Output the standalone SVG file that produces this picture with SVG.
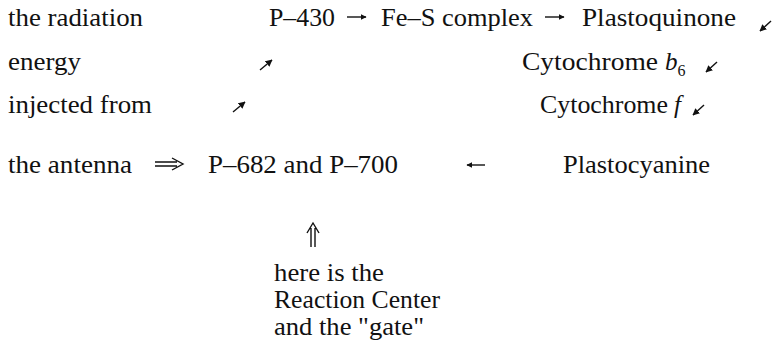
<svg xmlns="http://www.w3.org/2000/svg" width="775" height="352" viewBox="0 0 775 352">
<style>
text{font-family:'Liberation Serif','Times New Roman','DejaVu Serif',serif;font-size:25px;fill:#111}
.c{stroke:#111;stroke-width:1.4;fill:none}
</style>
<defs>
<marker id="ah" viewBox="0 0 10 10" refX="9" refY="5" markerWidth="6" markerHeight="6" markerUnits="userSpaceOnUse" orient="auto"><path d="M0,0L10,5L0,10z" fill="#111"/></marker>
<marker id="ahs" viewBox="0 0 10 10" refX="9" refY="5" markerWidth="7" markerHeight="7" markerUnits="userSpaceOnUse" orient="auto"><path d="M0,0L10,5L0,10z" fill="#111"/></marker>
</defs>
<rect width="775" height="352" fill="#fff"/>
<g id="label-left">
<text x="8" y="26" textLength="135" lengthAdjust="spacingAndGlyphs">the radiation</text>
<text x="8" y="70" textLength="73" lengthAdjust="spacingAndGlyphs">energy</text>
<text x="8" y="113" textLength="144" lengthAdjust="spacingAndGlyphs">injected from</text>
<text x="8" y="173" textLength="124" lengthAdjust="spacingAndGlyphs">the antenna</text>
</g>
<g id="p430"><text x="269" y="26" textLength="66" lengthAdjust="spacingAndGlyphs">P–430</text></g>
<g id="fes"><text x="381" y="26" textLength="152" lengthAdjust="spacingAndGlyphs">Fe–S complex</text></g>
<g id="pq"><text x="582" y="26" textLength="154" lengthAdjust="spacingAndGlyphs">Plastoquinone</text></g>
<g id="cytb6"><text x="522" y="70"><tspan textLength="136" lengthAdjust="spacingAndGlyphs">Cytochrome</tspan><tspan x="665" font-style="italic">b</tspan><tspan font-size="16" dy="6">6</tspan></text></g>
<g id="cytf"><text x="540" y="113"><tspan textLength="128" lengthAdjust="spacingAndGlyphs">Cytochrome</tspan><tspan x="674" font-style="italic">f</tspan></text></g>
<g id="p682"><text x="208" y="173" textLength="190" lengthAdjust="spacingAndGlyphs">P–682 and P–700</text></g>
<g id="pc"><text x="563" y="173" textLength="147" lengthAdjust="spacingAndGlyphs">Plastocyanine</text></g>
<g id="rc">
<text x="274" y="281" textLength="110" lengthAdjust="spacingAndGlyphs">here is the</text>
<text x="274" y="308" textLength="166" lengthAdjust="spacingAndGlyphs">Reaction Center</text>
<text x="274" y="335" textLength="150" lengthAdjust="spacingAndGlyphs">and the "gate"</text>
</g>
<g id="connectors">
<path class="c" d="M347,17H366" marker-end="url(#ah)"/>
<path class="c" d="M545,17H564" marker-end="url(#ah)"/>
<path class="c" d="M771,21L760,31" marker-end="url(#ahs)"/>
<path class="c" d="M260,70L272,60" marker-end="url(#ahs)"/>
<path class="c" d="M717,62L706,72" marker-end="url(#ahs)"/>
<path class="c" d="M233,112L245,102" marker-end="url(#ahs)"/>
<path class="c" d="M704,105L693,115" marker-end="url(#ahs)"/>
<path class="c" d="M485,165H467" marker-end="url(#ah)"/>
<path class="c" d="M155,162H177M155,166H177M172,158L183,164L172,170"/>
<path class="c" d="M311,247V228M315,247V228M307,233L313,223L319,233"/>
</g>
</svg>
